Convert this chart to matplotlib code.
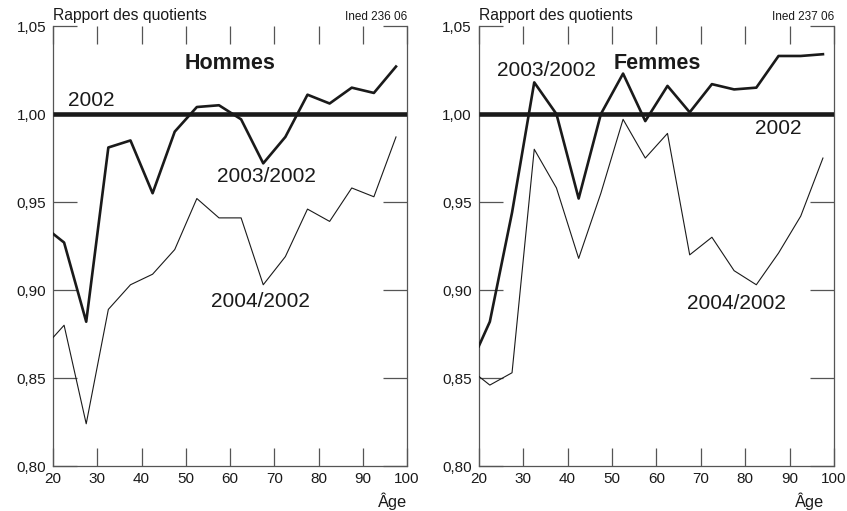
import matplotlib
matplotlib.use("Agg")
import matplotlib.pyplot as plt
import numpy as np

plt.rcParams['font.family'] = ['Liberation Sans', 'DejaVu Sans']

# ages (centre des groupes quinquennaux)
ages = [20, 22.5, 27.5, 32.5, 37.5, 42.5, 47.5, 52.5, 57.5, 62.5,
        67.5, 72.5, 77.5, 82.5, 87.5, 92.5, 97.5]

hommes_2003 = [0.932, 0.927, 0.882, 0.981, 0.985, 0.955, 0.990, 1.004, 1.005,
               0.997, 0.972, 0.987, 1.011, 1.006, 1.015, 1.012, 1.027]
hommes_2004 = [0.873, 0.880, 0.824, 0.889, 0.903, 0.909, 0.923, 0.952, 0.941,
               0.941, 0.903, 0.919, 0.946, 0.939, 0.958, 0.953, 0.987]

femmes_2003 = [0.868, 0.882, 0.944, 1.018, 1.000, 0.952, 1.000, 1.023, 0.996,
               1.016, 1.001, 1.017, 1.014, 1.015, 1.033, 1.033, 1.034]
femmes_2004 = [0.851, 0.846, 0.853, 0.980, 0.958, 0.918, 0.955, 0.997, 0.975,
               0.989, 0.920, 0.930, 0.911, 0.903, 0.921, 0.942, 0.975]

xticks = [20, 30, 40, 50, 60, 70, 80, 90, 100]
yticks = [0.80, 0.85, 0.90, 0.95, 1.00, 1.05]
ylabels = ['0,80', '0,85', '0,90', '0,95', '1,00', '1,05']

ink = '#1a1a1a'
grey = '#555555'

fig = plt.figure(figsize=(8.47, 5.11), dpi=100)
ax1 = fig.add_axes([0.0626, 0.088, 0.418, 0.861])
ax2 = fig.add_axes([0.5652, 0.088, 0.4195, 0.861])


def panel(ax, s2003, s2004, code, age_x):
    ax.plot([20, 100], [1, 1], color=ink, lw=3.3, solid_capstyle='butt', zorder=3)
    ax.plot(ages, s2003, color=ink, lw=1.9, zorder=4)
    ax.plot(ages, s2004, color=ink, lw=0.8, zorder=4)
    ax.set_xlim(20, 100)
    ax.set_ylim(0.80, 1.05)
    ax.set_xticks(xticks)
    ax.set_yticks(yticks)
    ax.set_yticklabels(ylabels)
    ax.spines['top'].set_visible(False)
    for s in ['left', 'right', 'bottom']:
        ax.spines[s].set_color(grey)
        ax.spines[s].set_linewidth(0.9)
    ax.tick_params(axis='x', direction='in', top=True, length=13, width=0.9,
                   color=grey, labelsize=11, pad=4, labelcolor=ink)
    ax.tick_params(axis='y', direction='in', right=True, length=17, width=0.9,
                   color=grey, labelsize=11, pad=5, labelcolor=ink)
    ax.text(0, 1.008, 'Rapport des quotients', transform=ax.transAxes,
            fontsize=11.3, color=ink, ha='left', va='bottom')
    ax.text(1, 1.008, code, transform=ax.transAxes,
            fontsize=8.5, color=ink, ha='right', va='bottom')
    ax.text(age_x, -0.08, 'Âge', transform=ax.transAxes,
            fontsize=11.8, color=ink, ha='right', va='center')


panel(ax1, hommes_2003, hommes_2004, 'Ined 236 06', 1.0)
panel(ax2, femmes_2003, femmes_2004, 'Ined 237 06', 0.972)

ax1.text(60, 1.0287, 'Hommes', fontsize=15.5, fontweight='bold', color=ink,
         ha='center', va='center')
ax1.text(23.4, 1.0078, '2002', fontsize=15, color=ink, ha='left', va='center')
ax1.text(57.1, 0.9643, '2003/2002', fontsize=15, color=ink, ha='left', va='center')
ax1.text(55.6, 0.8934, '2004/2002', fontsize=15, color=ink, ha='left', va='center')

ax2.text(60.3, 1.029, 'Femmes', fontsize=15.5, fontweight='bold', color=ink,
         ha='center', va='center')
ax2.text(24.2, 1.0248, '2003/2002', fontsize=15, color=ink, ha='left', va='center')
ax2.text(82.2, 0.9917, '2002', fontsize=15, color=ink, ha='left', va='center')
ax2.text(66.8, 0.8925, '2004/2002', fontsize=15, color=ink, ha='left', va='center')

fig.savefig('out.png', dpi=100)
